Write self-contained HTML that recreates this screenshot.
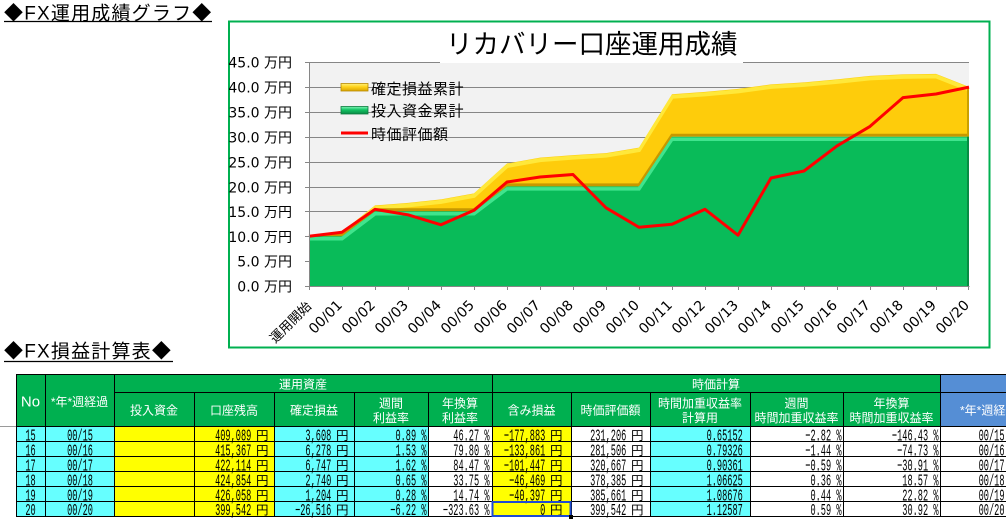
<!DOCTYPE html>
<html><head><meta charset="utf-8">
<style>
html,body{margin:0;padding:0;background:#fff;width:1006px;height:519px;overflow:hidden}
svg{display:block}
.cjk{font-family:"Liberation Sans","Noto Sans CJK JP",sans-serif}
.jp{font-family:"Noto Sans CJK JP",sans-serif}
.ax{font-family:"DejaVu Sans","Noto Sans CJK JP",sans-serif;font-size:14px;fill:#000}
.m text{font-family:"Liberation Mono","Noto Sans CJK JP",monospace;font-size:16.5px;fill:#000}
.yen text{font-family:"Noto Sans CJK JP",sans-serif;font-size:12.5px;fill:#000;text-anchor:end}
.h{font-family:"Liberation Sans","Noto Sans CJK JP",sans-serif;font-size:12px;fill:#fff;text-anchor:middle}
</style></head><body>
<svg width="1006" height="519" viewBox="0 0 1006 519" xmlns="http://www.w3.org/2000/svg">
<defs>
<clipPath id="cg"><polygon points="309,286 309,236.2 342,236.2 375,211.3 474,211.3 507,186.4 639,186.4 672,136.7 969,136.7 969,286"/></clipPath>
<clipPath id="cy"><polygon points="309,235.7 342,231.7 375,205.4 408,202.9 441,199.4 474,193.4 507,163.5 540,157.6 573,155.1 606,153.1 639,147.6 672,94.3 705,91.9 738,88.9 771,84.4 804,82.4 837,79.4 870,75.9 903,74.4 936,73.9 969,86.9 969,136.7 672,136.7 639,186.4 507,186.4 474,211.3 375,211.3 342,236.2 309,236.2"/></clipPath>
<linearGradient id="ly" x1="0" y1="0" x2="0" y2="1"><stop offset="0" stop-color="#fff27a"/><stop offset=".45" stop-color="#ffd21a"/><stop offset="1" stop-color="#d9a400"/></linearGradient>
<linearGradient id="lg" x1="0" y1="0" x2="0" y2="1"><stop offset="0" stop-color="#80f5b8"/><stop offset=".45" stop-color="#12c262"/><stop offset="1" stop-color="#0a8a45"/></linearGradient>
</defs>

<!-- page headers -->
<text x="4" y="19.5" font-size="19" letter-spacing="1.2" class="cjk"><tspan class="jp">◆</tspan>FX運用成績グラフ<tspan class="jp">◆</tspan></text>
<line x1="4" y1="21.5" x2="212" y2="21.5" stroke="#000" stroke-width="1.3"/>
<text x="4" y="357.5" font-size="19" letter-spacing="1.2" class="cjk"><tspan class="jp">◆</tspan>FX損益計算表<tspan class="jp">◆</tspan></text>
<line x1="4" y1="361.5" x2="173" y2="361.5" stroke="#000" stroke-width="1.3"/>

<!-- chart frame -->
<rect x="229" y="21.5" width="760.5" height="326" fill="#fff" stroke="#00b050" stroke-width="2"/>
<rect x="309" y="62" width="660" height="224" fill="#f2f2f2"/>

<g stroke="#868686" stroke-width="1">
<line x1="305" y1="62.5" x2="969" y2="62.5"/>
<line x1="305" y1="87.5" x2="969" y2="87.5"/>
<line x1="305" y1="112.5" x2="969" y2="112.5"/>
<line x1="305" y1="137.5" x2="969" y2="137.5"/>
<line x1="305" y1="162.5" x2="969" y2="162.5"/>
<line x1="305" y1="187.5" x2="969" y2="187.5"/>
<line x1="305" y1="211.5" x2="969" y2="211.5"/>
<line x1="305" y1="236.5" x2="969" y2="236.5"/>
<line x1="305" y1="261.5" x2="969" y2="261.5"/>
</g>

<!-- yellow area -->
<polygon fill="#fecc0b" points="309,235.7 342,231.7 375,205.4 408,202.9 441,199.4 474,193.4 507,163.5 540,157.6 573,155.1 606,153.1 639,147.6 672,94.3 705,91.9 738,88.9 771,84.4 804,82.4 837,79.4 870,75.9 903,74.4 936,73.9 969,86.9 969,136.7 672,136.7 639,186.4 507,186.4 474,211.3 375,211.3 342,236.2 309,236.2"/>
<g clip-path="url(#cy)" fill="none">
<polyline stroke="#ffe83a" stroke-width="4" points="309,238.2 342,234.2 375,207.9 408,205.4 441,201.9 474,195.9 507,166 540,160.1 573,157.6 606,155.6 639,150.1 672,96.8 705,94.4 738,91.4 771,86.9 804,84.9 837,81.9 870,78.4 903,76.9 936,76.4 969,89.4"/>
<polyline stroke="#c79800" stroke-width="3" points="309,234.7 342,234.7 375,209.8 474,209.8 507,184.9 639,184.9 672,135.2 969,135.2"/>
<line x1="968" y1="80" x2="968" y2="137" stroke="#c9a000" stroke-width="2"/>
</g>
<!-- green area -->
<polygon fill="#09bb59" points="309,286 309,236.2 342,236.2 375,211.3 474,211.3 507,186.4 639,186.4 672,136.7 969,136.7 969,286"/>
<g clip-path="url(#cg)" fill="none">
<polyline stroke="#40e48d" stroke-width="3.5" points="309,238.7 342,238.7 375,213.8 474,213.8 507,188.9 639,188.9 672,139.2 969,139.2"/>
<line x1="968" y1="136" x2="968" y2="286" stroke="#078c43" stroke-width="2"/>
</g>

<!-- red line -->
<polyline fill="none" stroke="#ff0000" stroke-width="3" stroke-linejoin="round" points="309,236.2 342,232.2 375,209.3 408,214.8 441,224.8 474,210.3 507,182 540,177 573,174.5 606,207.8 639,227.3 672,224.3 705,209.3 738,235.2 771,178 804,171 837,145.9 870,126.4 903,97.6 936,94 969,87.1"/>

<!-- axes -->
<g stroke="#868686" stroke-width="1">
<line x1="309.5" y1="62" x2="309.5" y2="286"/>
<line x1="305" y1="286.5" x2="969.5" y2="286.5"/>
<line x1="309.5" y1="286" x2="309.5" y2="290"/><line x1="342.5" y1="286" x2="342.5" y2="290"/><line x1="375.5" y1="286" x2="375.5" y2="290"/><line x1="408.5" y1="286" x2="408.5" y2="290"/><line x1="441.5" y1="286" x2="441.5" y2="290"/><line x1="474.5" y1="286" x2="474.5" y2="290"/><line x1="507.5" y1="286" x2="507.5" y2="290"/><line x1="540.5" y1="286" x2="540.5" y2="290"/><line x1="573.5" y1="286" x2="573.5" y2="290"/><line x1="606.5" y1="286" x2="606.5" y2="290"/><line x1="639.5" y1="286" x2="639.5" y2="290"/><line x1="672.5" y1="286" x2="672.5" y2="290"/><line x1="705.5" y1="286" x2="705.5" y2="290"/><line x1="738.5" y1="286" x2="738.5" y2="290"/><line x1="771.5" y1="286" x2="771.5" y2="290"/><line x1="804.5" y1="286" x2="804.5" y2="290"/><line x1="837.5" y1="286" x2="837.5" y2="290"/><line x1="870.5" y1="286" x2="870.5" y2="290"/><line x1="903.5" y1="286" x2="903.5" y2="290"/><line x1="936.5" y1="286" x2="936.5" y2="290"/><line x1="968.5" y1="286" x2="968.5" y2="290"/>
</g>

<!-- y labels -->
<g class="ax" text-anchor="end">
<text x="292" y="67.5">45.0 万円</text>
<text x="292" y="92.5">40.0 万円</text>
<text x="292" y="117.5">35.0 万円</text>
<text x="292" y="142.5">30.0 万円</text>
<text x="292" y="167.5">25.0 万円</text>
<text x="292" y="192.5">20.0 万円</text>
<text x="292" y="217">15.0 万円</text>
<text x="292" y="242">10.0 万円</text>
<text x="292" y="266.5">5.0 万円</text>
<text x="292" y="291.5">0.0 万円</text>
</g>

<!-- x labels -->
<g class="ax" text-anchor="end">
<text transform="translate(312,307) rotate(-45)" font-size="13">運用開始</text>
<text transform="translate(343,306) rotate(-45)">00/01</text>
<text transform="translate(376,306) rotate(-45)">00/02</text>
<text transform="translate(409,306) rotate(-45)">00/03</text>
<text transform="translate(442,306) rotate(-45)">00/04</text>
<text transform="translate(475,306) rotate(-45)">00/05</text>
<text transform="translate(508,306) rotate(-45)">00/06</text>
<text transform="translate(541,306) rotate(-45)">00/07</text>
<text transform="translate(574,306) rotate(-45)">00/08</text>
<text transform="translate(607,306) rotate(-45)">00/09</text>
<text transform="translate(640,306) rotate(-45)">00/10</text>
<text transform="translate(673,306) rotate(-45)">00/11</text>
<text transform="translate(706,306) rotate(-45)">00/12</text>
<text transform="translate(739,306) rotate(-45)">00/13</text>
<text transform="translate(772,306) rotate(-45)">00/14</text>
<text transform="translate(805,306) rotate(-45)">00/15</text>
<text transform="translate(838,306) rotate(-45)">00/16</text>
<text transform="translate(871,306) rotate(-45)">00/17</text>
<text transform="translate(904,306) rotate(-45)">00/18</text>
<text transform="translate(937,306) rotate(-45)">00/19</text>
<text transform="translate(970,306) rotate(-45)">00/20</text>
</g>

<!-- legend -->
<rect x="341" y="83.5" width="27" height="7.5" fill="url(#ly)" stroke="#b88a00" stroke-width=".8"/>
<rect x="341" y="106.5" width="27" height="7.5" fill="url(#lg)" stroke="#0a7a3c" stroke-width=".8"/>
<line x1="341" y1="133" x2="368" y2="133" stroke="#ff0000" stroke-width="3"/>
<g class="jp" font-size="15" letter-spacing=".5">
<text x="371" y="94.2">確定損益累計</text>
<text x="371" y="116.2">投入資金累計</text>
<text x="371" y="139.5">時価評価額</text>
</g>

<!-- title -->
<rect x="440" y="23" width="303" height="40" fill="#fff"/>
<text x="446" y="53.6" class="jp" font-size="26.5">リカバリー口座運用成績</text>

<!-- ================= table ================= -->
<line x1="0" y1="426.5" x2="16" y2="426.5" stroke="#9a9a9a"/>
<rect x="16" y="374" width="924" height="53" fill="#00b050"/>
<rect x="940" y="374" width="66" height="53" fill="#558ed5"/>
<rect x="16" y="427" width="98" height="90" fill="#66ffff"/>
<rect x="114" y="427" width="160" height="90" fill="#ffff00"/>
<rect x="274" y="427" width="154" height="90" fill="#66ffff"/>
<rect x="492" y="427" width="79" height="90" fill="#ffff00"/>
<rect x="650" y="427" width="100" height="90" fill="#66ffff"/>

<g stroke="#000" stroke-width="1">
<line x1="16" y1="374.5" x2="1006" y2="374.5"/>
<line x1="114" y1="392.5" x2="1006" y2="392.5"/>
<line x1="16" y1="426.5" x2="1006" y2="426.5"/>
<line x1="16" y1="441.5" x2="1006" y2="441.5"/>
<line x1="16" y1="456.5" x2="1006" y2="456.5"/>
<line x1="16" y1="471.5" x2="1006" y2="471.5"/>
<line x1="16" y1="486.5" x2="1006" y2="486.5"/>
<line x1="16" y1="501.5" x2="1006" y2="501.5"/>
<line x1="16" y1="516.5" x2="1006" y2="516.5"/>
<line x1="16.5" y1="374" x2="16.5" y2="517"/>
<line x1="45.5" y1="374" x2="45.5" y2="517"/>
<line x1="114.5" y1="374" x2="114.5" y2="517"/>
<line x1="492.5" y1="374" x2="492.5" y2="517"/>
<line x1="940.5" y1="374" x2="940.5" y2="517"/>
<line x1="194.5" y1="392" x2="194.5" y2="517"/>
<line x1="274.5" y1="392" x2="274.5" y2="517"/>
<line x1="354.5" y1="392" x2="354.5" y2="517"/>
<line x1="428.5" y1="392" x2="428.5" y2="517"/>
<line x1="571.5" y1="392" x2="571.5" y2="517"/>
<line x1="650.5" y1="392" x2="650.5" y2="517"/>
<line x1="750.5" y1="392" x2="750.5" y2="517"/>
<line x1="843.5" y1="392" x2="843.5" y2="517"/>
</g>

<!-- header texts -->
<text x="30.5" y="406.5" font-family="Liberation Sans, sans-serif" font-size="15" fill="#fff" text-anchor="middle">No</text>
<text class="h" x="79.5" y="406">*年*週経過</text>
<text class="h" x="303" y="388.5">運用資産</text>
<text class="h" x="716" y="388.5">時価計算</text>
<text class="h" x="154" y="414.5">投入資金</text>
<text class="h" x="234" y="414.5">口座残高</text>
<text class="h" x="314" y="414.5">確定損益</text>
<text class="h" x="391" y="407.5">週間</text>
<text class="h" x="391" y="422.2">利益率</text>
<text class="h" x="460" y="407.5">年換算</text>
<text class="h" x="460" y="422.2">利益率</text>
<text class="h" x="531.5" y="414.5">含み損益</text>
<text class="h" x="610.5" y="414.5">時価評価額</text>
<text class="h" x="700" y="407.5">時間加重収益率</text>
<text class="h" x="700" y="422.2">計算用</text>
<text class="h" x="796.5" y="407.5">週間</text>
<text class="h" x="796.5" y="422.2">時間加重収益率</text>
<text class="h" x="891.5" y="407.5">年換算</text>
<text class="h" x="891.5" y="422.2">時間加重収益率</text>
<text class="h" x="960" y="414.5" style="text-anchor:start">*年*週経過</text>

<!-- data rows -->
<g class="m">
<text transform="translate(30.5,440.5) scale(.523 1)" text-anchor="middle">15</text>
<text transform="translate(80,440.5) scale(.523 1)" text-anchor="middle">00/15</text>
<text transform="translate(251.3,440.5) scale(.523 1)" text-anchor="end">409,089</text>
<text transform="translate(331.3,440.5) scale(.523 1)" text-anchor="end">3,608</text>
<text transform="translate(426.5,440.5) scale(.523 1)" text-anchor="end">0.89 %</text>
<text transform="translate(489.5,440.5) scale(.523 1)" text-anchor="end">46.27 %</text>
<text transform="translate(545.3,440.5) scale(.523 1)" text-anchor="end">−177,883</text>
<text transform="translate(626.3,440.5) scale(.523 1)" text-anchor="end">231,206</text>
<text transform="translate(742.8,440.5) scale(.523 1)" text-anchor="end">0.65152</text>
<text transform="translate(841.5,440.5) scale(.523 1)" text-anchor="end">−2.82 %</text>
<text transform="translate(938.5,440.5) scale(.523 1)" text-anchor="end">−146.43 %</text>
<text transform="translate(1004.5,440.5) scale(.523 1)" text-anchor="end">00/15</text>

<text transform="translate(30.5,455.5) scale(.523 1)" text-anchor="middle">16</text>
<text transform="translate(80,455.5) scale(.523 1)" text-anchor="middle">00/16</text>
<text transform="translate(251.3,455.5) scale(.523 1)" text-anchor="end">415,367</text>
<text transform="translate(331.3,455.5) scale(.523 1)" text-anchor="end">6,278</text>
<text transform="translate(426.5,455.5) scale(.523 1)" text-anchor="end">1.53 %</text>
<text transform="translate(489.5,455.5) scale(.523 1)" text-anchor="end">79.80 %</text>
<text transform="translate(545.3,455.5) scale(.523 1)" text-anchor="end">−133,861</text>
<text transform="translate(626.3,455.5) scale(.523 1)" text-anchor="end">281,506</text>
<text transform="translate(742.8,455.5) scale(.523 1)" text-anchor="end">0.79326</text>
<text transform="translate(841.5,455.5) scale(.523 1)" text-anchor="end">−1.44 %</text>
<text transform="translate(938.5,455.5) scale(.523 1)" text-anchor="end">−74.73 %</text>
<text transform="translate(1004.5,455.5) scale(.523 1)" text-anchor="end">00/16</text>

<text transform="translate(30.5,470.5) scale(.523 1)" text-anchor="middle">17</text>
<text transform="translate(80,470.5) scale(.523 1)" text-anchor="middle">00/17</text>
<text transform="translate(251.3,470.5) scale(.523 1)" text-anchor="end">422,114</text>
<text transform="translate(331.3,470.5) scale(.523 1)" text-anchor="end">6,747</text>
<text transform="translate(426.5,470.5) scale(.523 1)" text-anchor="end">1.62 %</text>
<text transform="translate(489.5,470.5) scale(.523 1)" text-anchor="end">84.47 %</text>
<text transform="translate(545.3,470.5) scale(.523 1)" text-anchor="end">−101,447</text>
<text transform="translate(626.3,470.5) scale(.523 1)" text-anchor="end">320,667</text>
<text transform="translate(742.8,470.5) scale(.523 1)" text-anchor="end">0.90361</text>
<text transform="translate(841.5,470.5) scale(.523 1)" text-anchor="end">−0.59 %</text>
<text transform="translate(938.5,470.5) scale(.523 1)" text-anchor="end">−30.91 %</text>
<text transform="translate(1004.5,470.5) scale(.523 1)" text-anchor="end">00/17</text>

<text transform="translate(30.5,485.5) scale(.523 1)" text-anchor="middle">18</text>
<text transform="translate(80,485.5) scale(.523 1)" text-anchor="middle">00/18</text>
<text transform="translate(251.3,485.5) scale(.523 1)" text-anchor="end">424,854</text>
<text transform="translate(331.3,485.5) scale(.523 1)" text-anchor="end">2,740</text>
<text transform="translate(426.5,485.5) scale(.523 1)" text-anchor="end">0.65 %</text>
<text transform="translate(489.5,485.5) scale(.523 1)" text-anchor="end">33.75 %</text>
<text transform="translate(545.3,485.5) scale(.523 1)" text-anchor="end">−46,469</text>
<text transform="translate(626.3,485.5) scale(.523 1)" text-anchor="end">378,385</text>
<text transform="translate(742.8,485.5) scale(.523 1)" text-anchor="end">1.06625</text>
<text transform="translate(841.5,485.5) scale(.523 1)" text-anchor="end">0.36 %</text>
<text transform="translate(938.5,485.5) scale(.523 1)" text-anchor="end">18.57 %</text>
<text transform="translate(1004.5,485.5) scale(.523 1)" text-anchor="end">00/18</text>

<text transform="translate(30.5,500.5) scale(.523 1)" text-anchor="middle">19</text>
<text transform="translate(80,500.5) scale(.523 1)" text-anchor="middle">00/19</text>
<text transform="translate(251.3,500.5) scale(.523 1)" text-anchor="end">426,058</text>
<text transform="translate(331.3,500.5) scale(.523 1)" text-anchor="end">1,204</text>
<text transform="translate(426.5,500.5) scale(.523 1)" text-anchor="end">0.28 %</text>
<text transform="translate(489.5,500.5) scale(.523 1)" text-anchor="end">14.74 %</text>
<text transform="translate(545.3,500.5) scale(.523 1)" text-anchor="end">−40,397</text>
<text transform="translate(626.3,500.5) scale(.523 1)" text-anchor="end">385,661</text>
<text transform="translate(742.8,500.5) scale(.523 1)" text-anchor="end">1.08676</text>
<text transform="translate(841.5,500.5) scale(.523 1)" text-anchor="end">0.44 %</text>
<text transform="translate(938.5,500.5) scale(.523 1)" text-anchor="end">22.82 %</text>
<text transform="translate(1004.5,500.5) scale(.523 1)" text-anchor="end">00/19</text>

<text transform="translate(30.5,515) scale(.523 1)" text-anchor="middle">20</text>
<text transform="translate(80,515) scale(.523 1)" text-anchor="middle">00/20</text>
<text transform="translate(251.3,515) scale(.523 1)" text-anchor="end">399,542</text>
<text transform="translate(331.3,515) scale(.523 1)" text-anchor="end">−26,516</text>
<text transform="translate(426.5,515) scale(.523 1)" text-anchor="end">−6.22 %</text>
<text transform="translate(489.5,515) scale(.523 1)" text-anchor="end">−323.63 %</text>
<text transform="translate(545.3,515) scale(.523 1)" text-anchor="end">0</text>
<text transform="translate(626.3,515) scale(.523 1)" text-anchor="end">399,542</text>
<text transform="translate(742.8,515) scale(.523 1)" text-anchor="end">1.12587</text>
<text transform="translate(841.5,515) scale(.523 1)" text-anchor="end">0.59 %</text>
<text transform="translate(938.5,515) scale(.523 1)" text-anchor="end">30.92 %</text>
<text transform="translate(1004.5,515) scale(.523 1)" text-anchor="end">00/20</text>
</g>

<g class="yen">
<text x="268.5" y="440">円</text><text x="348.5" y="440">円</text><text x="562.5" y="440">円</text><text x="643.5" y="440">円</text>
<text x="268.5" y="455">円</text><text x="348.5" y="455">円</text><text x="562.5" y="455">円</text><text x="643.5" y="455">円</text>
<text x="268.5" y="470">円</text><text x="348.5" y="470">円</text><text x="562.5" y="470">円</text><text x="643.5" y="470">円</text>
<text x="268.5" y="485">円</text><text x="348.5" y="485">円</text><text x="562.5" y="485">円</text><text x="643.5" y="485">円</text>
<text x="268.5" y="500">円</text><text x="348.5" y="500">円</text><text x="562.5" y="500">円</text><text x="643.5" y="500">円</text>
<text x="268.5" y="514.5">円</text><text x="348.5" y="514.5">円</text><text x="562.5" y="514.5">円</text><text x="643.5" y="514.5">円</text>
</g>

<!-- selection -->
<rect x="492.5" y="502" width="78" height="14" fill="none" stroke="#1f4bd1" stroke-width="2"/>
<rect x="569" y="515" width="4" height="4" fill="#000"/>
</svg>
</body></html>
